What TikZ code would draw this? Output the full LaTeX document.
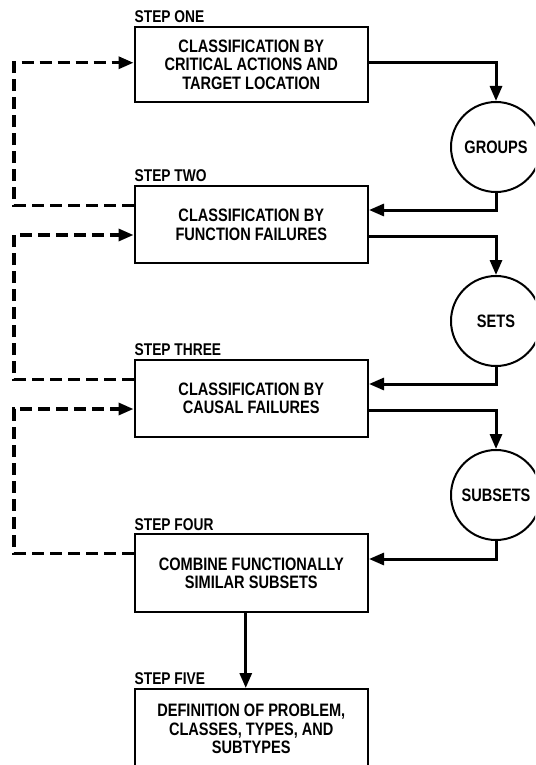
\documentclass[tikz,border=0pt]{standalone}
\usepackage{fontspec}
\setmainfont{Liberation Sans}[FakeStretch=0.81]
\usetikzlibrary{arrows.meta}
\begin{document}
\begin{tikzpicture}[x=1pt,y=-1pt,
  txt/.style={font=\bfseries\fontsize{18}{18.3}\selectfont},
  stepbox/.style={txt, draw, line width=2pt, minimum width=233.5pt, align=center, inner sep=0pt},
  tally/.style={txt, draw, circle, line width=2pt, minimum size=90pt, inner sep=0pt},
  steplabel/.style={anchor=base west, inner sep=0pt, font=\bfseries\fontsize{17}{17}\selectfont},
  flow/.style={line width=3pt, -{Triangle[length=15pt,width=12pt]}},
  back/.style={line width=3.2pt, dash pattern=on 12pt off 6pt, -{Triangle[length=15pt,width=12pt]}}
]
\useasboundingbox (0,0) rectangle (535,765);
\clip (0,0) rectangle (535,765);

% process steps
\node[stepbox, minimum height=75.5pt] (b1) at (251.25,64.75)
  {CLASSIFICATION BY\\CRITICAL ACTIONS AND\\TARGET LOCATION};
\node[stepbox, minimum height=77pt] (b2) at (251.25,224.7)
  {CLASSIFICATION BY\\FUNCTION FAILURES};
\node[stepbox, minimum height=77pt] (b3) at (251.25,398.5)
  {CLASSIFICATION BY\\CAUSAL FAILURES};
\node[stepbox, minimum height=77.4pt] (b4) at (251.25,573)
  {COMBINE FUNCTIONALLY\\SIMILAR SUBSETS};
\node[stepbox, minimum height=80pt] (b5) at (251.25,729)
  {DEFINITION OF PROBLEM,\\CLASSES, TYPES, AND\\SUBTYPES};

% step captions
\node[steplabel] (l1) at (134.5,22.5) {STEP ONE};
\node[steplabel] (l2) at (134.5,181.5) {STEP TWO};
\node[steplabel] (l3) at (134.5,355.5) {STEP THREE};
\node[steplabel] (l4) at (134.5,530) {STEP FOUR};
\node[steplabel] (l5) at (134.5,684.5) {STEP FIVE};

% intermediate results
\node[tally] (g1) at (496,147) {GROUPS};
\node[tally] (g2) at (496,321) {SETS};
\node[tally] (g3) at (496,495) {SUBSETS};

% forward flow
\draw[flow] ([yshift=2pt]b1.east) -| (g1.north);
\draw[flow] (g1.south) |- ([yshift=14.7pt]b2.east);
\draw[flow] ([yshift=-12pt]b2.east) -| (g2.north);
\draw[flow] (g2.south) |- ([yshift=14.5pt]b3.east);
\draw[flow] ([yshift=-12.2pt]b3.east) -| (g3.north);
\draw[flow] (g3.south) |- ([yshift=14pt]b4.east);
\draw[flow] ([xshift=-5.5pt]b4.south) -- ([xshift=-5.5pt]b5.north);

% feedback loops
\draw[back] ([yshift=19pt]b2.west) -- ++(-119.5,0) |- ([yshift=2pt]b1.west);
\draw[back] ([yshift=18.8pt]b3.west) -- ++(-119.5,0) |- ([yshift=-10.3pt]b2.west);
\draw[back] ([yshift=19.7pt]b4.west) -- ++(-119.5,0) |- ([yshift=-10.5pt]b3.west);
\end{tikzpicture}
\end{document}
